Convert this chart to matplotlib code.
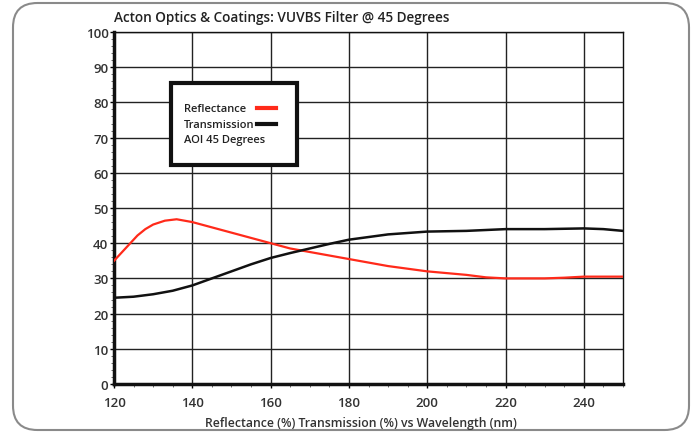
"""
Acton Optics VUVBS filter @ 45 deg: reflectance / transmission vs wavelength
"""

import numpy as np
import matplotlib
matplotlib.use('Agg')
import matplotlib.pyplot as plt
from matplotlib.patches import FancyBboxPatch, Rectangle
from matplotlib.lines import Line2D

# Data
refl_wl = [120, 122, 124, 126, 128, 130, 133, 136, 140, 145, 150, 155, 160,
           165, 170, 175, 180, 190, 200, 210, 215, 220, 230, 235, 240, 250]
refl_pct = [35.0, 37.4, 39.8, 42.2, 44.0, 45.3, 46.4, 46.8, 46.0, 44.5, 43.0, 41.5, 40.0,
            38.5, 37.5, 36.5, 35.5, 33.5, 32.0, 31.0, 30.3, 30.0, 30.0, 30.2, 30.5, 30.5]

trans_wl = [120, 125, 130, 135, 140, 145, 150, 155, 160, 165, 170, 175,
            180, 190, 200, 210, 220, 230, 240, 245, 250]
trans_pct = [24.5, 24.8, 25.5, 26.5, 28.0, 30.0, 32.0, 34.0, 35.8, 37.2, 38.5, 39.8,
             41.0, 42.5, 43.3, 43.5, 44.0, 44.0, 44.2, 44.0, 43.5]

x_ticks = [120, 140, 160, 180, 200, 220, 240]
y_ticks = list(range(0, 101, 10))

legend_labels = ['Reflectance', 'Transmission', 'AOI 45 Degrees']

W, H = 698, 435
fig = plt.figure(figsize=(W / 100, H / 100), dpi=100)
plt.rcParams['font.family'] = ['Open Sans', 'DejaVu Sans']

# rounded outer frame, drawn behind the axes
frame = FancyBboxPatch((13 / W, 4 / H), 676 / W, 427 / H,
                       boxstyle='round,pad=0,rounding_size=0.035',
                       transform=fig.transFigure, fc='none', ec='#8a8a8a',
                       lw=1.5, mutation_aspect=W / H, zorder=-1)
fig.patches.append(frame)

# plot area in pixels: left 114, right 623, top 33, bottom 385
ax = fig.add_axes([114 / W, (H - 385) / H, (623 - 114) / W, (385 - 33) / H])
ax.set_facecolor('none')

ax.plot(refl_wl, refl_pct, color='#ff2a1a', lw=1.6, zorder=3)
ax.plot(trans_wl, trans_pct, color='#111111', lw=1.8, zorder=3)

ax.set_xlim(120, 250)
ax.set_ylim(0, 100)
ax.set_xticks(x_ticks)
ax.set_yticks(y_ticks)
ax.set_xticks(np.arange(120, 251, 5), minor=True)
ax.set_yticks(np.arange(0, 101, 2), minor=True)
ax.grid(True, which='major', color='#222222', lw=1.0)
ax.tick_params(which='major', length=3, width=1, labelsize=9.5,
               labelcolor='#333333')
ax.tick_params(axis='y', which='major', pad=1)
ax.tick_params(axis='x', which='major', pad=6)
ax.tick_params(which='minor', length=2, width=0.6, color='#555555')
for lbl in ax.get_xticklabels() + ax.get_yticklabels():
    lbl.set_fontweight('semibold')

ax.spines['left'].set_linewidth(2.5)
ax.spines['bottom'].set_linewidth(2.5)
ax.spines['top'].set_linewidth(1.0)
ax.spines['right'].set_linewidth(1.0)
for s in ax.spines.values():
    s.set_color('#111111')

# hand-drawn legend box
def px(x, y):
    return (x - 114) / (623 - 114), (385 - y) / (385 - 33)

x0, y0 = px(171, 166)
x1, y1 = px(297, 84)
box = Rectangle((x0, y0), x1 - x0, y1 - y0, transform=ax.transAxes,
                fc='white', ec='#111111', lw=3, zorder=5)
ax.add_patch(box)

text_y = [109, 125, 141]
for lab, ty in zip(legend_labels, text_y):
    tx, tyy = px(184, ty)
    ax.text(tx, tyy, lab, transform=ax.transAxes, fontsize=8,
            fontweight='semibold', color='#222222', va='center', ha='left',
            zorder=6)
for col, ty in [('#ff2a1a', 109), ('#111111', 125)]:
    lx0, ly = px(257, ty)
    lx1, _ = px(276, ty)
    ax.add_line(Line2D([lx0, lx1], [ly, ly], transform=ax.transAxes,
                       color=col, lw=3, zorder=6))

fig.text(114 / W, 1 - 18 / H, 'Acton Optics & Coatings: VUVBS Filter @ 45 Degrees',
         fontsize=9.8, fontweight='semibold', color='#222222', va='center', ha='left')
fig.text(361 / W, 1 - 424 / H, 'Reflectance (%) Transmission (%) vs Wavelength (nm)',
         fontsize=8.8, fontweight='semibold', color='#333333', va='center', ha='center')

fig.savefig('out.png', dpi=100)
